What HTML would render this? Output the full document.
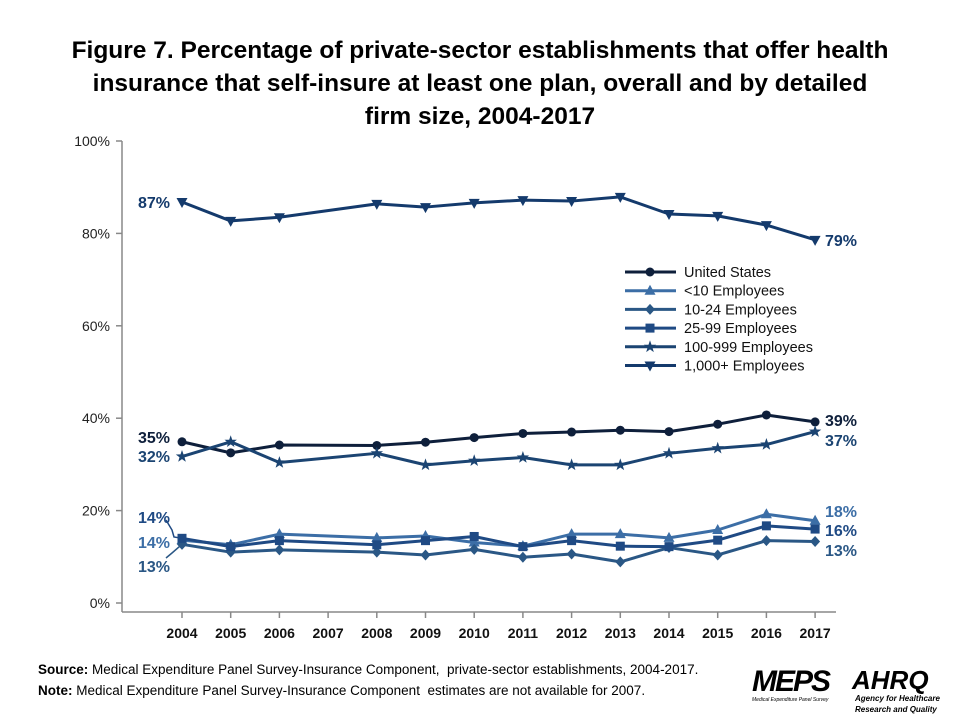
<!DOCTYPE html>
<html><head><meta charset="utf-8"><style>
body{margin:0;background:#fff;width:960px;height:720px;overflow:hidden;font-family:"Liberation Sans",sans-serif}
#title{position:absolute;left:0;top:34px;width:960px;text-align:center;font-size:24.5px;font-weight:bold;line-height:33px;color:#000;font-family:"Liberation Sans Narrow","Liberation Sans",sans-serif}
.foot{position:absolute;left:38px;font-size:13.5px;color:#000;font-family:"Liberation Sans Narrow","Liberation Sans",sans-serif}
</style></head><body>
<div id="title">Figure 7. Percentage of private-sector establishments that offer health<br>insurance that self-insure at least one plan, overall and by detailed<br>firm size, 2004-2017</div>
<svg id="chart" width="960" height="720" style="position:absolute;left:0;top:0"></svg>
<div class="foot" style="top:662px"><b>Source:</b> Medical Expenditure Panel Survey-Insurance Component,&nbsp; private-sector establishments, 2004-2017.</div>
<div class="foot" style="top:683px"><b>Note:</b> Medical Expenditure Panel Survey-Insurance Component&nbsp; estimates are not available for 2007.</div>
<div style="position:absolute;left:752px;top:665px;font:italic bold 30px 'Liberation Sans',sans-serif;color:#000;letter-spacing:-2px">MEPS</div>
<div style="position:absolute;left:752px;top:697px;font:italic 5px 'Liberation Sans',sans-serif;color:#000">Medical Expenditure Panel Survey</div>
<div style="position:absolute;left:852px;top:665px;font:italic bold 26px 'Liberation Sans',sans-serif;color:#000">AHRQ</div>
<div style="position:absolute;left:855px;top:693px;font:italic bold 8px 'Liberation Sans',sans-serif;color:#000;line-height:11px">Agency for Healthcare<br>Research and Quality</div>
<script>
const years=["2004","2005","2006","2007","2008","2009","2010","2011","2012","2013","2014","2015","2016","2017"];
const yTicks=[0,20,40,60,80,100];
const usVals=[34.9,32.5,34.2,null,34.1,34.8,35.8,36.7,37.0,37.4,37.1,38.7,40.7,39.2];
const lt10Vals=[13.6,12.6,14.9,null,14.1,14.5,13.1,12.3,14.9,14.9,14.1,15.8,19.2,17.8];
const e10Vals=[12.7,11.0,11.5,null,11.0,10.4,11.6,9.9,10.6,8.9,12.0,10.4,13.5,13.3];
const e25Vals=[14.0,12.2,13.5,null,12.6,13.5,14.4,12.2,13.5,12.3,12.2,13.6,16.7,16.0];
const e100Vals=[31.7,34.9,30.4,null,32.4,29.9,30.8,31.5,29.9,29.9,32.4,33.5,34.3,37.1];
const e1000Vals=[86.8,82.7,83.5,null,86.4,85.7,86.6,87.2,87.0,87.9,84.2,83.8,81.8,78.6];
const seriesNames=["United States","<10 Employees","10-24 Employees","25-99 Employees","100-999 Employees","1,000+ Employees"];

const NS="http://www.w3.org/2000/svg";
const svg=document.getElementById('chart');
const X=i=>182+i*48.7;
const Y=v=>603-v*4.62;
function mk(t,a,p){const e=document.createElementNS(NS,t);for(const k in a)e.setAttribute(k,a[k]);(p||svg).appendChild(e);return e;}
function txt(s,x,y,o){const e=mk('text',Object.assign({x:x,y:y,'font-family':'Liberation Sans, sans-serif'},o));e.textContent=s;return e;}

// axes
const ax=mk('g',{});


mk('line',{x1:122,y1:141,x2:122,y2:612,stroke:'#888','stroke-width':1.5},ax);
mk('line',{x1:122,y1:612,x2:836,y2:612,stroke:'#888','stroke-width':1.5},ax);
yTicks.forEach(v=>{
  mk('line',{x1:116,y1:Y(v),x2:122,y2:Y(v),stroke:'#888','stroke-width':1.5},ax);
  const t=txt(v+'%',110,Y(v)+5,{'text-anchor':'end','font-size':14,fill:'#222'});
  
  
});
years.forEach((y,i)=>{
  mk('line',{x1:X(i),y1:612,x2:X(i),y2:618,stroke:'#888','stroke-width':1.5},ax);
  const t=txt(y,X(i),638,{'text-anchor':'middle','font-size':14,'font-weight':'bold',fill:'#111'});
  
  
});

function marker(type,x,y,c,g){
  if(type==='circle')return mk('circle',{cx:x,cy:y,r:4.5,fill:c},g);
  if(type==='tri')return mk('polygon',{points:`${x},${y-6} ${x-5.5},${y+4} ${x+5.5},${y+4}`,fill:c},g);
  if(type==='diamond')return mk('polygon',{points:`${x},${y-5.5} ${x+5},${y} ${x},${y+5.5} ${x-5},${y}`,fill:c},g);
  if(type==='square')return mk('rect',{x:x-4.5,y:y-4.5,width:9,height:9,fill:c},g);
  if(type==='star'){let p=[];for(let k=0;k<10;k++){const r=k%2?2.6:6.5,a=-Math.PI/2+k*Math.PI/5;p.push((x+r*Math.cos(a)).toFixed(1)+','+(y+r*Math.sin(a)).toFixed(1));}return mk('polygon',{points:p.join(' '),fill:c},g);}
  if(type==='tridown')return mk('polygon',{points:`${x-5.5},${y-4} ${x+5.5},${y-4} ${x},${y+6}`,fill:c},g);
}
const series=[
 {vals:usVals,c:'#0e1f3b',m:'circle',n:'series-united-states'},
 {vals:lt10Vals,c:'#3c6ea6',m:'tri',n:'series-lt10'},
 {vals:e10Vals,c:'#2a5785',m:'diamond',n:'series-10-24'},
 {vals:e25Vals,c:'#1f4a84',m:'square',n:'series-25-99'},
 {vals:e100Vals,c:'#1b4472',m:'star',n:'series-100-999'},
 {vals:e1000Vals,c:'#143a6c',m:'tridown',n:'series-1000-plus'}
];
series.forEach(s=>{
  const g=mk('g',{});
  
  
  const pts=[];s.vals.forEach((v,i)=>{if(v!==null)pts.push(X(i)+','+Y(v));});
  mk('polyline',{points:pts.join(' '),fill:'none',stroke:s.c,'stroke-width':3,'stroke-linejoin':'round'},g);
  s.vals.forEach((v,i)=>{if(v!==null){const m=marker(s.m,X(i),Y(v),s.c,g);}});
});
// value labels
function lab(s,x,y,c,anchor){const t=txt(s,x,y,{'font-size':16,'font-weight':'bold',fill:c,'text-anchor':anchor||'start'});
  
  }
const r=v=>Math.round(v)+'%';
lab(r(e1000Vals[0]),170,208,'#143a6c','end');lab(r(e1000Vals[13]),825,246,'#143a6c');
lab(r(usVals[0]),170,443,'#0e1f3b','end');lab(r(usVals[13]),825,426,'#0e1f3b');
lab(r(e100Vals[0]),170,462,'#1b4472','end');lab(r(e100Vals[13]),825,446,'#1b4472');
lab(r(e25Vals[0]),170,523,'#1f4a84','end');lab(r(e25Vals[13]),825,536,'#1f4a84');
lab(r(lt10Vals[0]),170,548,'#3c6ea6','end');lab(r(lt10Vals[13]),825,517,'#3c6ea6');
lab(r(e10Vals[0]),170,572,'#2a5785','end');lab(r(e10Vals[13]),825,556,'#2a5785');
mk('polyline',{points:`166,520 172,530 174,537 ${X(0)},${Y(e25Vals[0])}`,fill:'none',stroke:'#1f4a84','stroke-width':1.5});
mk('polyline',{points:`166,558 172,553 ${X(0)},${Y(e10Vals[0])}`,fill:'none',stroke:'#2a5785','stroke-width':1.5});
// legend
const lg=mk('g',{});


seriesNames.forEach((nm,k)=>{
  const y=272+k*18.7,s=series[k];
  const e=mk('g',{},lg);
  
  
  mk('line',{x1:625,y1:y,x2:676,y2:y,stroke:s.c,'stroke-width':3},e);
  marker(s.m,650,y,s.c,e);
  const t=txt(nm,684,y+5,{'font-size':14.5,fill:'#111'});e.appendChild(t);
});
</script>
</body></html>
